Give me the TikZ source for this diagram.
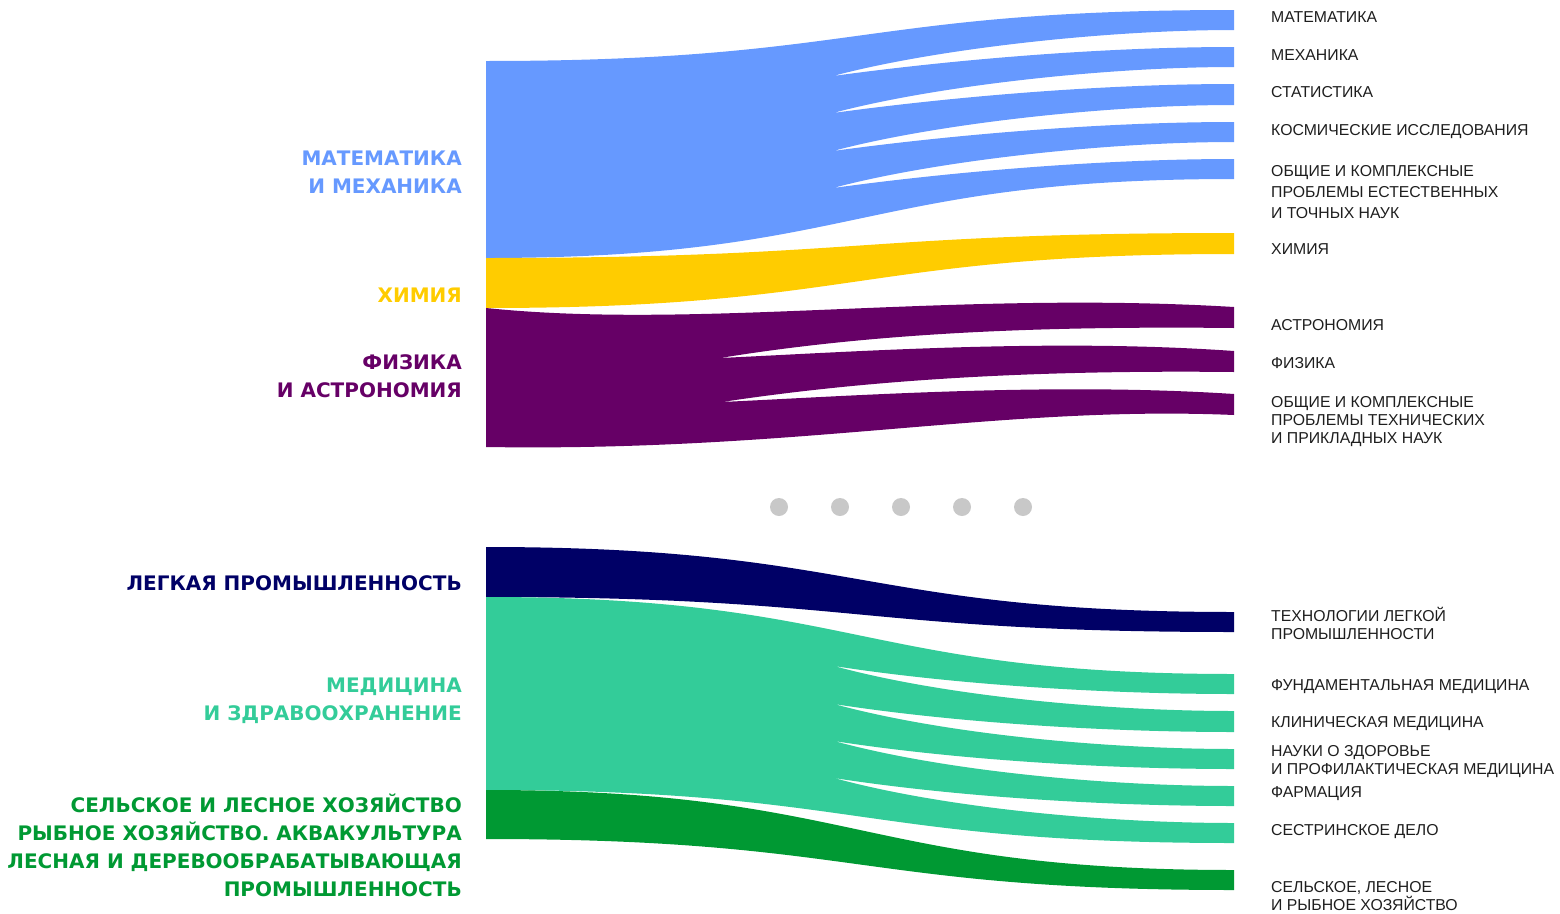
\documentclass[tikz,border=0pt]{standalone}
\usepackage{fontspec}
\newfontfamily\headfont{DejaVu Sans}
\newfontfamily\itemfont{Liberation Sans}

\definecolor{mathblue}{HTML}{6699FF}
\definecolor{chemyellow}{HTML}{FFCC00}
\definecolor{physpurple}{HTML}{660066}
\definecolor{lightnavy}{HTML}{000066}
\definecolor{medgreen}{HTML}{33CC99}
\definecolor{agrogreen}{HTML}{009933}
\definecolor{dotgray}{HTML}{C8C8C8}
\definecolor{itemgray}{HTML}{1E1E1E}

\tikzset{
  leftlabel/.style={anchor=base east,align=right,inner sep=0pt,
    font=\headfont\bfseries\fontsize{20}{27.8}\selectfont},
  rightlabel/.style={anchor=base west,align=left,inner sep=0pt,text=itemgray,
    font=\itemfont\fontsize{15.8}{#1}\selectfont},
  rightlabel/.default=18
}

\begin{document}
\begin{tikzpicture}[x=1pt,y=-1pt]
  \useasboundingbox (0,0) rectangle (1560,913);

  % natural sciences
  \fill[mathblue] (486,61) .. controls (860,61) and (860,10) .. (1234,10)
    \foreach \b in {30,67,105,142} {
      -- (1234,\b) .. controls (1100,\b) and (930,\b+20) .. (833,\b+46)
      .. controls (950,\b+30) and (1100,\b+17) .. (1234,\b+17)
    }
    -- (1234,179) .. controls (860,179) and (860,258) .. (486,258) -- cycle;
  \fill[chemyellow] (486,258) .. controls (860,258) and (860,233) .. (1234,233)
    -- (1234,254) .. controls (860,254) and (860,308) .. (486,308) -- cycle;
  \fill[physpurple] (486,308) .. controls (700,330) and (950,290) .. (1234,307)
    -- (1234,328) .. controls (1050,326) and (880,332) .. (720,358)
    .. controls (850,352) and (1050,338) .. (1234,351)
    -- (1234,372) .. controls (1050,370) and (880,378) .. (722,402)
    .. controls (850,396) and (1050,382) .. (1234,394)
    -- (1234,415) .. controls (1000,405) and (800,452) .. (486,447) -- cycle;

  % omitted groups
  \foreach \x in {779,840,901,962,1023}
    \fill[dotgray] (\x,507) circle (9pt);

  % applied sciences
  \fill[lightnavy] (486,547) .. controls (860,547) and (860,612) .. (1234,612)
    -- (1234,632) .. controls (860,632) and (860,597) .. (486,597) -- cycle;
  \fill[medgreen] (486,597) .. controls (860,597) and (860,674) .. (1234,674)
    \foreach \b in {694,732,769,806} {
      -- (1234,\b) .. controls (1100,\b) and (950,\b-10) .. (834,\b-28)
      .. controls (940,\b+1) and (1100,\b+17) .. (1234,\b+17)
    }
    -- (1234,843) .. controls (860,843) and (860,790) .. (486,790) -- cycle;
  \fill[agrogreen] (486,790) .. controls (860,790) and (860,870) .. (1234,870)
    -- (1234,890) .. controls (860,890) and (860,839) .. (486,839) -- cycle;

  % groups (base = last line)
  \node[leftlabel,text=mathblue] (mathlbl) at (462,193.3) {МАТЕМАТИКА\\И МЕХАНИКА};
  \node[leftlabel,text=chemyellow] (chemlbl) at (462,302) {ХИМИЯ};
  \node[leftlabel,text=physpurple] (physlbl) at (462,397.3) {ФИЗИКА\\И АСТРОНОМИЯ};
  \node[leftlabel,text=lightnavy] (lightlbl) at (462,590) {ЛЕГКАЯ ПРОМЫШЛЕННОСТЬ};
  \node[leftlabel,text=medgreen] (medlbl) at (462,720.7) {МЕДИЦИНА\\И ЗДРАВООХРАНЕНИЕ};
  \node[leftlabel,text=agrogreen] (agrolbl) at (462,896)
    {СЕЛЬСКОЕ И ЛЕСНОЕ ХОЗЯЙСТВО\\РЫБНОЕ ХОЗЯЙСТВО. АКВАКУЛЬТУРА\\ЛЕСНАЯ И ДЕРЕВООБРАБАТЫВАЮЩАЯ\\ПРОМЫШЛЕННОСТЬ};

  % fields
  \foreach \n/\y/\t in {tmath/22/МАТЕМАТИКА, tmech/60.5/МЕХАНИКА, tstat/97.3/СТАТИСТИКА,
      tspace/135/КОСМИЧЕСКИЕ ИССЛЕДОВАНИЯ, tchem/254/ХИМИЯ, tastro/330.7/АСТРОНОМИЯ,
      tphys/368/ФИЗИКА, tfund/690.7/ФУНДАМЕНТАЛЬНАЯ МЕДИЦИНА, tclin/727.3/КЛИНИЧЕСКАЯ МЕДИЦИНА,
      tpharm/797.7/ФАРМАЦИЯ, tnurse/835/СЕСТРИНСКОЕ ДЕЛО}
    \node[rightlabel] (\n) at (1271,\y) {\t};
  \node[rightlabel=21] (tnat) at (1271,218.3) {ОБЩИЕ И КОМПЛЕКСНЫЕ\\ПРОБЛЕМЫ ЕСТЕСТВЕННЫХ\\И ТОЧНЫХ НАУК};
  \node[rightlabel] (ttech) at (1271,443) {ОБЩИЕ И КОМПЛЕКСНЫЕ\\ПРОБЛЕМЫ ТЕХНИЧЕСКИХ\\И ПРИКЛАДНЫХ НАУК};
  \node[rightlabel] (tlight) at (1271,639) {ТЕХНОЛОГИИ ЛЕГКОЙ\\ПРОМЫШЛЕННОСТИ};
  \node[rightlabel] (thealth) at (1271,774) {НАУКИ О ЗДОРОВЬЕ\\И ПРОФИЛАКТИЧЕСКАЯ МЕДИЦИНА};
  \node[rightlabel] (tagro) at (1271,910) {СЕЛЬСКОЕ, ЛЕСНОЕ\\И РЫБНОЕ ХОЗЯЙСТВО};
\end{tikzpicture}
\end{document}
